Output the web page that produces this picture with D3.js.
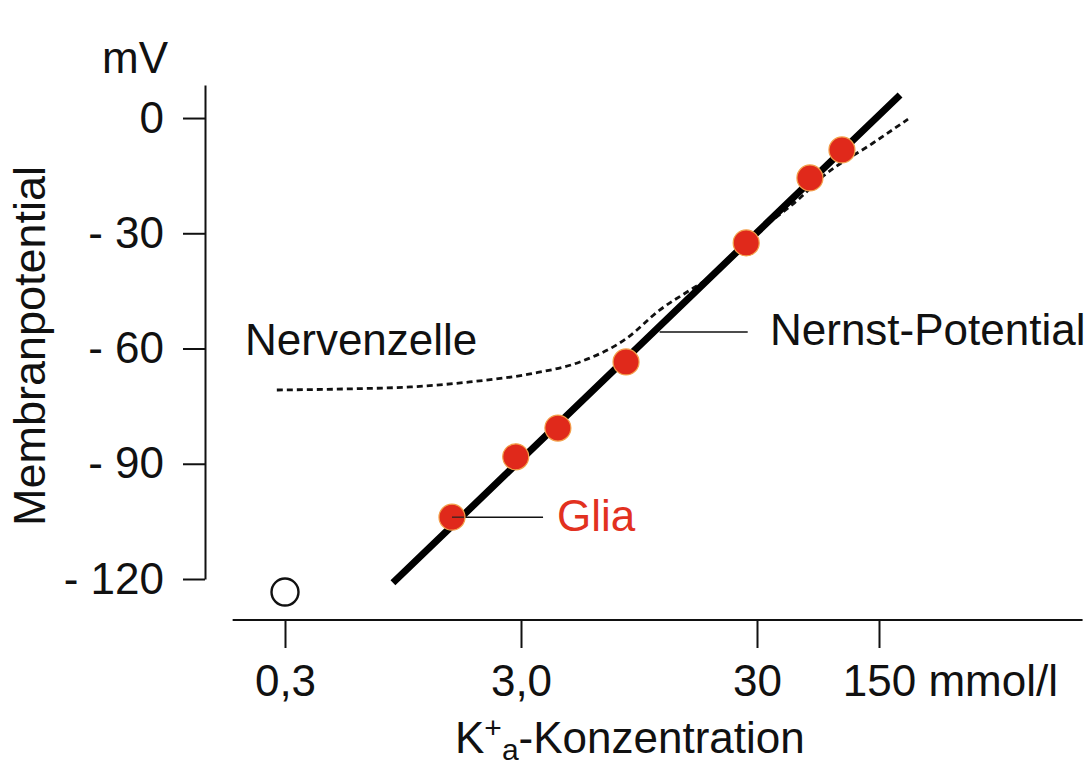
<!DOCTYPE html>
<html>
<head>
<meta charset="utf-8">
<script src="https://cdn.jsdelivr.net/npm/d3@7"></script>
<style>
  html, body { margin: 0; padding: 0; background: #fff; }
  svg { display: block; }
  text { font-family: "Liberation Sans", Arial, Helvetica, sans-serif; fill: #111; }
</style>
</head>
<body>
<svg id="chart" width="1087" height="772"></svg>
<script>
// ---- data ----
const xTicks = [0.3, 3, 30, 150];
const xTickLabels = ["0,3", "3,0", "30", "150"];
const xUnit = " mmol/l";
const yTicks = [0, -30, -60, -90, -120];
const yTickLabels = ["0", "- 30", "- 60", "- 90", "- 120"];
const yUnit = "mV";
const yTitle = "Membranpotential";

// Glia measurements (K+ mmol/l, mV)
const gliaK  = [1.53, 2.85, 4.3, 8.36, 27.0, 60.3, 92];
const gliaMV = [-103.9, -88.2, -80.7, -63.5, -32.5, -15.6, -8.3];

// Nernst potential (straight in log scale)
const nernstK  = [0.86, 30, 198];
const nernstMV = [-121.0, -29.8, 6.0];

// Nerve cell curve
const nerveK  = [0.277, 0.566, 1.02, 1.82, 3.28, 5.33, 8.43, 11.6, 15.6, 18.5, 30, 52.9, 70.8, 138.7, 220];
const nerveMV = [-70.8, -70.5, -70.0, -68.7, -66.6, -63.5, -57.3, -50.0, -44.8, -41.9, -29.9, -20.8, -15.4, -6.5, -0.3];

// Open circle (nerve cell at 0.3 mmol/l)
const openK = [0.3];
const openMV = [-123.4];

// label leader lines [K start, K end, mV]
const nernstLeader = [11.6, 27.4, -55.7];
const gliaLeader = [1.53, 3.72, -103.9];

const xAxisExtent = [0.18, 2200];
const yAxisExtent = [-120, 8.6];

// ---- scales ----
const svg = d3.select("#chart");
const x = d3.scaleLog().domain(xTicks).range([285, 521, 757, 879]);
const y = d3.scaleLinear().domain(yAxisExtent).range([579, 85]);

const FS = 44;

// ---- y axis ----
const yAxis = d3.axisLeft(y)
  .tickValues(yTicks)
  .tickSize(22)
  .tickSizeOuter(0)
  .tickPadding(19)
  .tickFormat((d, i) => yTickLabels[i]);
const gy = svg.append("g").attr("transform", `translate(${205},0)`).call(yAxis);
gy.select(".domain").attr("stroke", "#111").attr("stroke-width", 2);
gy.selectAll(".tick line").attr("stroke", "#111").attr("stroke-width", 2);
gy.selectAll(".tick text").attr("font-size", FS).attr("fill", "#111")
  .attr("font-family", '"Liberation Sans", Arial, sans-serif');

svg.append("text").attr("x", 102).attr("y", 73).attr("font-size", FS).text(yUnit);

svg.append("text")
  .attr("transform", `translate(${45},${346}) rotate(-90)`)
  .attr("text-anchor", "middle")
  .attr("font-size", 45)
  .text(yTitle);

// ---- x axis ----
const xAxisY = 620;
const xAxis = d3.axisBottom(x)
  .tickValues(xTicks)
  .tickSize(28)
  .tickSizeOuter(0)
  .tickPadding(17)
  .tickFormat((d, i) => xTickLabels[i]);
const gx = svg.append("g").attr("transform", `translate(0,${xAxisY})`).call(xAxis);
gx.select(".domain").remove();
gx.append("line")
  .attr("x1", x(xAxisExtent[0])).attr("x2", x(xAxisExtent[1]))
  .attr("y1", 0).attr("y2", 0)
  .attr("stroke", "#111").attr("stroke-width", 2);
gx.selectAll(".tick line").attr("stroke", "#111").attr("stroke-width", 2);
gx.selectAll(".tick text").attr("font-size", FS).attr("fill", "#111")
  .attr("font-family", '"Liberation Sans", Arial, sans-serif');
// last tick gets the unit, with "150" centred on its tick
gx.selectAll(".tick text").filter((d, i) => i === xTicks.length - 1)
  .each(function() {
    const t = d3.select(this);
    const w = this.getComputedTextLength();
    t.attr("text-anchor", "start").attr("x", -w / 2);
    t.append("tspan").text(xUnit);
  });

// x title K+a-Konzentration
const xt = svg.append("text").attr("x", 455).attr("y", 753).attr("font-size", FS);
xt.append("tspan").text("K");
xt.append("tspan").attr("font-size", 30).attr("dy", -15).text("+");
xt.append("tspan").attr("font-size", 30).attr("dy", 22).text("a");
xt.append("tspan").attr("dy", -7).text("-Konzentration");

// ---- lines ----
const line = d3.line().x(d => x(d[0])).y(d => y(d[1]));
const nerveData = nerveK.map((k, i) => [k, nerveMV[i]]);
const nernstData = nernstK.map((k, i) => [k, nernstMV[i]]);

svg.append("path")
  .attr("d", d3.line().curve(d3.curveMonotoneX).x(d => x(d[0])).y(d => y(d[1]))(nerveData))
  .attr("fill", "none").attr("stroke", "#111").attr("stroke-width", 2.8)
  .attr("stroke-dasharray", "6,4");

svg.append("path")
  .attr("d", line(nernstData))
  .attr("fill", "none").attr("stroke", "#000").attr("stroke-width", 7);

// Nernst label
svg.append("line")
  .attr("x1", x(nernstLeader[0])).attr("x2", x(nernstLeader[1]))
  .attr("y1", y(nernstLeader[2])).attr("y2", y(nernstLeader[2]))
  .attr("stroke", "#111").attr("stroke-width", 1.5);
svg.append("text").attr("x", 770).attr("y", 345).attr("font-size", FS).text("Nernst-Potential");

svg.append("text").attr("x", 245).attr("y", 355).attr("font-size", FS).text("Nervenzelle");

// Glia label
svg.append("line")
  .attr("x1", x(gliaLeader[0])).attr("x2", x(gliaLeader[1]))
  .attr("y1", y(gliaLeader[2])).attr("y2", y(gliaLeader[2]))
  .attr("stroke", "#111").attr("stroke-width", 1.5);
svg.append("text").attr("x", 557).attr("y", 531).attr("font-size", FS)
  .style("fill", "#e2311f").text("Glia");

// ---- points ----
svg.selectAll("circle.glia")
  .data(gliaK.map((k, i) => [k, gliaMV[i]]))
  .join("circle")
  .attr("class", "glia")
  .attr("cx", d => x(d[0])).attr("cy", d => y(d[1]))
  .attr("r", 13)
  .attr("fill", "#e0291b")
  .attr("stroke", "#f3a04a").attr("stroke-width", 1.2);

// leader continues onto the first dot (as in original)
svg.append("line")
  .attr("x1", x(gliaLeader[0])).attr("x2", x(gliaLeader[0]) + 12)
  .attr("y1", y(gliaLeader[2])).attr("y2", y(gliaLeader[2]))
  .attr("stroke", "#222").attr("stroke-width", 1.2);

svg.selectAll("circle.open")
  .data(openK.map((k, i) => [k, openMV[i]]))
  .join("circle")
  .attr("class", "open")
  .attr("cx", d => x(d[0])).attr("cy", d => y(d[1]))
  .attr("r", 13.5)
  .attr("fill", "#fff").attr("stroke", "#111").attr("stroke-width", 2.4);
</script>
</body>
</html>
